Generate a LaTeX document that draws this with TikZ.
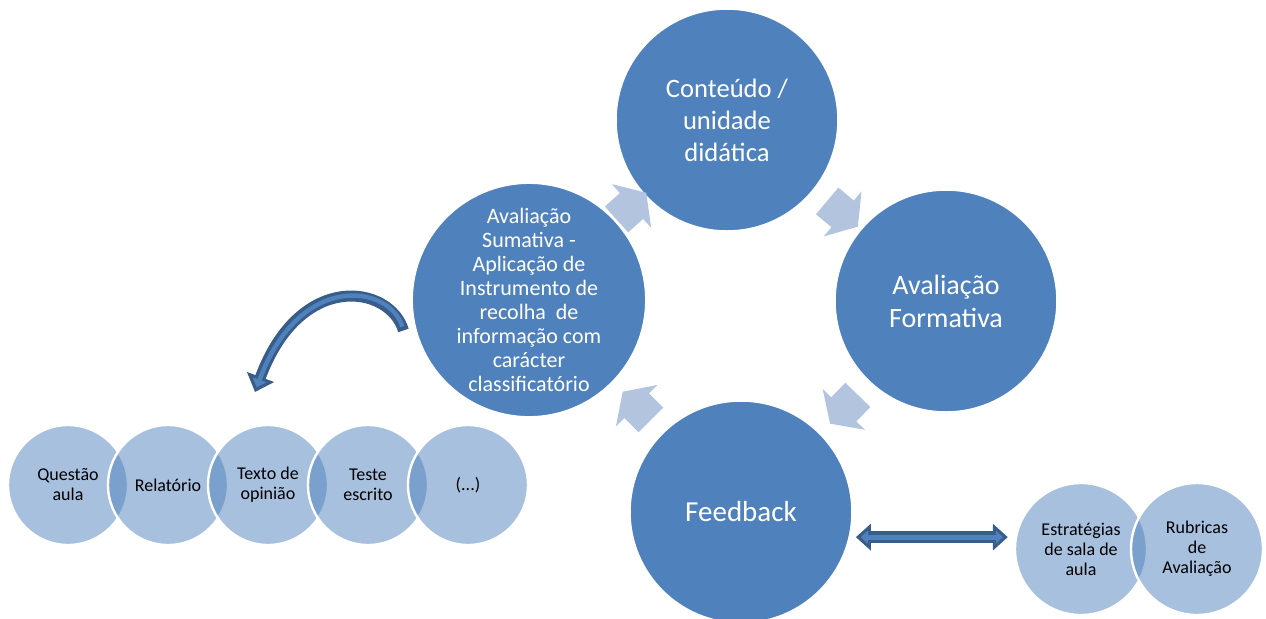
\documentclass[tikz,border=0pt]{standalone}
\usepackage{fontspec}
\setmainfont{Carlito}
\usepackage{xcolor}
\usetikzlibrary{shapes.arrows, arrows.meta, positioning, calc}
\definecolor{bigblue}{RGB}{79,129,189}
\definecolor{darkblue}{RGB}{56,93,138}
\definecolor{cyclelight}{RGB}{179,196,222}
\tikzstyle{bigcircle} = [circle, minimum size=111pt, inner sep=0pt, fill=bigblue, draw=white, line width=0.75pt, text=white, align=center]
\tikzstyle{venn} = [circle, minimum size=60pt, inner sep=0pt, fill=bigblue, fill opacity=0.5, draw=white, draw opacity=1, line width=1.2pt, text=black, text opacity=1, align=center, font=\fontsize{9}{10}\selectfont]
\tikzstyle{cyclearrow} = [single arrow, fill=cyclelight, minimum height=20pt, inner xsep=0pt, inner ysep=8.5pt, single arrow head extend=6pt, single arrow tip angle=112]
\tikzstyle{bluearrow} = [line width=5.5pt, darkblue, -{Triangle[length=8pt,width=14pt]}]
\tikzstyle{blueinner} = [line width=2.2pt, bigblue, -{Triangle[length=4pt,width=7pt]}]
\tikzstyle{bluedouble} = [line width=6pt, darkblue, {Triangle[length=7.5pt,width=13pt]}-{Triangle[length=7.5pt,width=13pt]}]
\tikzstyle{doubleinner} = [line width=2.4pt, bigblue, {Triangle[length=3.5pt,width=6.5pt]}-{Triangle[length=3.5pt,width=6.5pt]}]

\begin{document}
\begin{tikzpicture}[x=0.5pt, y=-0.5pt, node distance=50pt, on grid]
        \useasboundingbox (0,0) rectangle (1266,618);
        \clip (0,0) rectangle (1266,618);

        \node[bigcircle, font=\fontsize{13.3}{16}\selectfont] (cont) at (727,120) {Conteúdo /\\unidade\\didática};
        \node[bigcircle, font=\fontsize{14}{16.5}\selectfont] (form) at (946,301) {Avaliação\\Formativa};
        \node[bigcircle, font=\fontsize{14.5}{17}\selectfont] (feed) at (741,512) {Feedback};
        \node[bigcircle, font=\fontsize{11}{12}\selectfont] (suma) at (529,300) {Avaliação\\Sumativa -\\Aplicação de\\Instrumento de\\recolha\ \ de\\informação com\\carácter\\classificatório};

        \node[cyclearrow, rotate=-40] (c1) at (838,210) {};
        \node[cyclearrow, rotate=-134] (c2) at (848,405) {};
        \node[cyclearrow, rotate=135] (c3) at (641,410) {};
        \node[cyclearrow, rotate=42] (c4) at (627,210) {};

        \node[venn] (quest) at (68,485) {Questão\\aula};
        \node[venn, right=of quest] (relat) {Relatório};
        \node[venn, right=of relat] (texto) {Texto de\\opinião};
        \node[venn, right=of texto] (teste) {Teste\\escrito};
        \node[venn, right=of teste] (etc) {(...)};

        \node[venn, minimum size=66pt] (estrat) at (1081,549) {Estratégias\\de sala de\\aula};
        \node[venn, minimum size=66pt, right=58pt of estrat] (rubr) {Rubricas\\de\\Avaliação};

        \coordinate (tail) at ($(suma.195)+(-12,0)$);
        \coordinate (tip) at (255,392);
        \draw[bluearrow] (tail) .. controls (390,285) and (300,270) .. (tip);
        \draw[blueinner, shorten <=2pt, shorten >=2.5pt] (tail) .. controls (390,285) and (300,270) .. (tip);

        \draw[bluedouble, shorten <=3pt, shorten >=3pt] (feed.-13) -- (feed.-13 -| estrat.west);
        \draw[doubleinner, shorten <=5.5pt, shorten >=5.5pt] (feed.-13) -- (feed.-13 -| estrat.west);
\end{tikzpicture}
\end{document}
